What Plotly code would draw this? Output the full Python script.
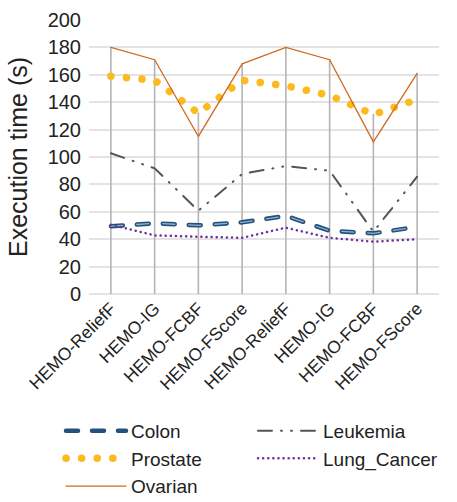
import plotly.graph_objects as go

categories = ["HEMO-ReliefF", "HEMO-IG", "HEMO-FCBF", "HEMO-FScore",
              "HEMO-ReliefF", "HEMO-IG", "HEMO-FCBF", "HEMO-FScore"]
colon = [49.5, 51.6, 50.1, 52.3, 57, 46.2, 44.3, 49]
leukemia = [102.7, 91.7, 60.8, 87.6, 93.4, 90, 45.5, 85.6]
prostate = [159, 156, 132, 156, 152, 145, 131, 142]
lung_cancer = [50.6, 42.8, 41.8, 41, 48.4, 41, 38.2, 40]
ovarian = [180, 171, 115, 168, 180, 171, 111, 161]
y_ticks = [0, 20, 40, 60, 80, 100, 120, 140, 160, 180, 200]

xs = list(range(len(categories)))
font = "Liberation Sans, Arial, sans-serif"
txt = "#222222"

fig = go.Figure()

# vertical drop lines from highest series value to the axis
dx, dy = [], []
for i in xs:
    top = max(colon[i], leukemia[i], prostate[i], lung_cancer[i], ovarian[i])
    dx += [i, i, None]
    dy += [0, top, None]
fig.add_trace(go.Scatter(x=dx, y=dy, mode="lines", showlegend=False, hoverinfo="skip",
                         line=dict(color="#b4b4b4", width=1.6)))

fig.add_trace(go.Scatter(x=xs, y=colon, mode="lines", name="Colon",
                         line=dict(color="#24507c", width=4.5, dash="12px,14px")))
fig.add_trace(go.Scatter(x=xs, y=colon, mode="lines", name="Colon", showlegend=False,
                         hoverinfo="skip",
                         line=dict(color="#8fb2d4", width=1.3, dash="12px,14px")))
fig.add_trace(go.Scatter(x=xs, y=leukemia, mode="lines", name="Leukemia",
                         line=dict(color="#555555", width=2,
                                   dash="14px,9px,1px,9px,1px,9px")))
fig.add_trace(go.Scatter(x=xs, y=prostate, mode="lines", name="Prostate",
                         line=dict(color="#fbbb1e", width=7.5, dash="0.1px,15.5px")))
fig.add_trace(go.Scatter(x=xs, y=lung_cancer, mode="lines", name="Lung_Cancer",
                         line=dict(color="#7030a0", width=2.5, dash="0.1px,5px")))
fig.add_trace(go.Scatter(x=xs, y=ovarian, mode="lines", name="Ovarian",
                         line=dict(color="#d2691e", width=1.3)))

fig.update_layout(
    width=457, height=502,
    margin=dict(l=89, r=18, t=20, b=208, autoexpand=False),
    paper_bgcolor="white", plot_bgcolor="white",
    font=dict(family=font, color=txt),
    showlegend=True,
    legend=dict(orientation="h", x=-0.08, xanchor="left", y=-0.43, yanchor="top",
                font=dict(size=19, family=font, color=txt),
                entrywidth=117, entrywidthmode="pixels", itemwidth=60,
                tracegroupgap=0),
)
fig.update_xaxes(range=[-0.5, 7.5], tickmode="array", tickvals=xs, ticktext=categories,
                 tickangle=-45, tickfont=dict(size=17.5, family=font, color=txt),
                 showgrid=False, zeroline=False, showline=False, ticks="",
                 automargin=False)
fig.update_yaxes(range=[0, 200], tickmode="array", tickvals=y_ticks,
                 tickfont=dict(size=20, family=font, color=txt), ticklabelstandoff=7,
                 title=dict(text="Execution time (s)", font=dict(size=25, family=font, color=txt),
                            standoff=12),
                 showgrid=True, gridcolor="#e3e3e3", gridwidth=1.5,
                 zeroline=True, zerolinecolor="#e3e3e3", zerolinewidth=1.5,
                 showline=False, ticks="", automargin=False)

post = """
document.body.style.margin = '0';
var s = document.createElement('style');
s.innerHTML = 'body{margin:0;} path.js-line, .legendlines path {stroke-linecap: round !important;}';
document.head.appendChild(s);
"""
fig.write_html("out.html", post_script=post, config={"displayModeBar": False})
